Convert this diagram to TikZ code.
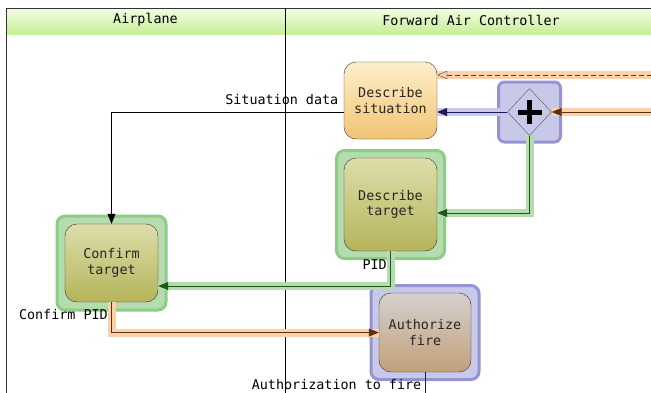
\documentclass[tikz,border=0pt]{standalone}
\usepackage{fontspec}
\setmonofont{DejaVu Sans Mono}
\usetikzlibrary{arrows.meta,shapes.geometric,positioning}
\definecolor{laneTop}{HTML}{F4FDE6}
\definecolor{laneBot}{HTML}{C6EE96}
\definecolor{sitTop}{HTML}{FDEFCB}
\definecolor{sitBot}{HTML}{F2C474}
\definecolor{oliveTop}{HTML}{DCDEAA}
\definecolor{oliveBot}{HTML}{B6B45A}
\definecolor{tanTop}{HTML}{D6D0CE}
\definecolor{tanBot}{HTML}{C2A07A}
\definecolor{haloGreen}{HTML}{B4DCAE}
\definecolor{haloGreenRim}{HTML}{8CCC84}
\definecolor{haloBlue}{HTML}{C8C8E8}
\definecolor{haloBlueRim}{HTML}{9494D4}
\definecolor{haloOrange}{HTML}{FAD2AA}
\definecolor{navy}{HTML}{1A1A58}
\definecolor{darkGreen}{HTML}{1C5A1C}
\definecolor{brown}{HTML}{5C3010}

\begin{document}
\begin{tikzpicture}[x=1pt, y=-1pt,
  font=\ttfamily\fontsize{13.4}{15.5}\selectfont,
  task/.style={draw=black!80, rounded corners=12pt, align=center, inner sep=0pt, text=black!85},
  halo/.style={rounded corners=8pt, line width=3pt},
  tip/.style={-{Triangle[length=10pt,width=8pt]}},
  opentip/.style={-{Triangle[open,length=10pt,width=8pt]}},
  glowG/.style={preaction={draw=haloGreen, line width=8pt, arrows=-}},
  glowB/.style={preaction={draw=haloBlue, line width=8pt, arrows=-}},
  glowO/.style={preaction={draw=haloOrange, line width=8pt, arrows=-}}]

  \useasboundingbox (0,0) rectangle (651,392);
  \clip (0,0) rectangle (651,392);

  %% lanes
  \shade[top color=laneTop, bottom color=laneBot] (6,8) rectangle (660,34);
  \draw[black!80] (6,400) -- (6,8) -- (660,8);
  \draw (285,8) -- (285,400);
  \node (laneA) at (145.5,20) {Airplane};
  \node (laneF) at (471,20) {Forward Air Controller};

  %% halos
  \node[halo, fill=haloBlue, draw=haloBlueRim, minimum width=62pt, minimum height=60pt, rounded corners=6pt] (gwH) at (529.5,112) {};
  \node[halo, fill=haloGreen, draw=haloGreenRim, minimum width=108pt, minimum height=108pt] (dtH) at (390.5,204.5) {};
  \node[halo, fill=haloGreen, draw=haloGreenRim, minimum width=109pt, minimum height=94pt] (ctH) at (111.5,263) {};
  \node[halo, fill=haloBlue, draw=haloBlueRim, minimum width=108pt, minimum height=94pt] (afH) at (425,332.5) {};

  %% tasks
  \node[task, top color=sitTop, bottom color=sitBot, minimum width=93pt, minimum height=77pt] (sit) at (390.5,100.5) {Describe\\situation};
  \node[task, top color=oliveTop, bottom color=oliveBot, minimum width=93pt, minimum height=93pt] (dt) at (dtH) {Describe\\target};
  \node[task, top color=oliveTop, bottom color=oliveBot, minimum width=93pt, minimum height=78pt] (ct) at (ctH) {Confirm\\target};
  \node[task, top color=tanTop, bottom color=tanBot, minimum width=92pt, minimum height=79pt] (af) at (afH) {Authorize\\fire};

  %% gateway
  \node[diamond, draw=black!65, fill=haloBlue, inner sep=0pt, minimum width=44pt, minimum height=47pt] (gw) at (gwH) {};
  \draw[line width=5pt] ([xshift=-12pt]gw.center) -- ([xshift=12pt]gw.center);
  \draw[line width=5pt] ([yshift=-12pt]gw.center) -- ([yshift=12pt]gw.center);

  \coordinate (inMsg) at (660,75);
  \coordinate (inFlow) at (660,112);
  \coordinate (outEnd) at (425,400);

  %% connectors
  \draw[glowO, opentip, dashed, dash pattern=on 5pt off 3pt, black!75] (inMsg) -- (inMsg -| sit.east); % msg->sit
  \draw[glowO, tip, brown, thick] (inFlow) -- (gw.east); % in->gw
  \draw[glowB, tip, navy, thick] (gw.west) -- (gw.west -| sit.east); % gw->sit
  \draw[glowG, tip, darkGreen, thick] (gw.south) |- ([yshift=-8.5pt]dt.east); % gw->dt

  \draw[tip] ([yshift=-11.5pt]sit.west) -| node[pos=0, above left, xshift=-2pt, yshift=4pt] {Situation data} (ct.north); %% sit->ct
  \draw[glowG, tip, darkGreen, thick] (dt.south) |- node[pos=0.19, left, text=black] {PID} ([yshift=-23pt]ct.east); %% dt->ct
  \draw[glowO, tip, brown, thick] (ct.south) |- node[pos=0.2, left, text=black] {Confirm PID} (af.west); %% ct->af
  \draw[navy, thick] (af.south) -- node[pos=0.45, left, text=black] {Authorization to fire} (outEnd); %% af->out
\end{tikzpicture}
\end{document}
